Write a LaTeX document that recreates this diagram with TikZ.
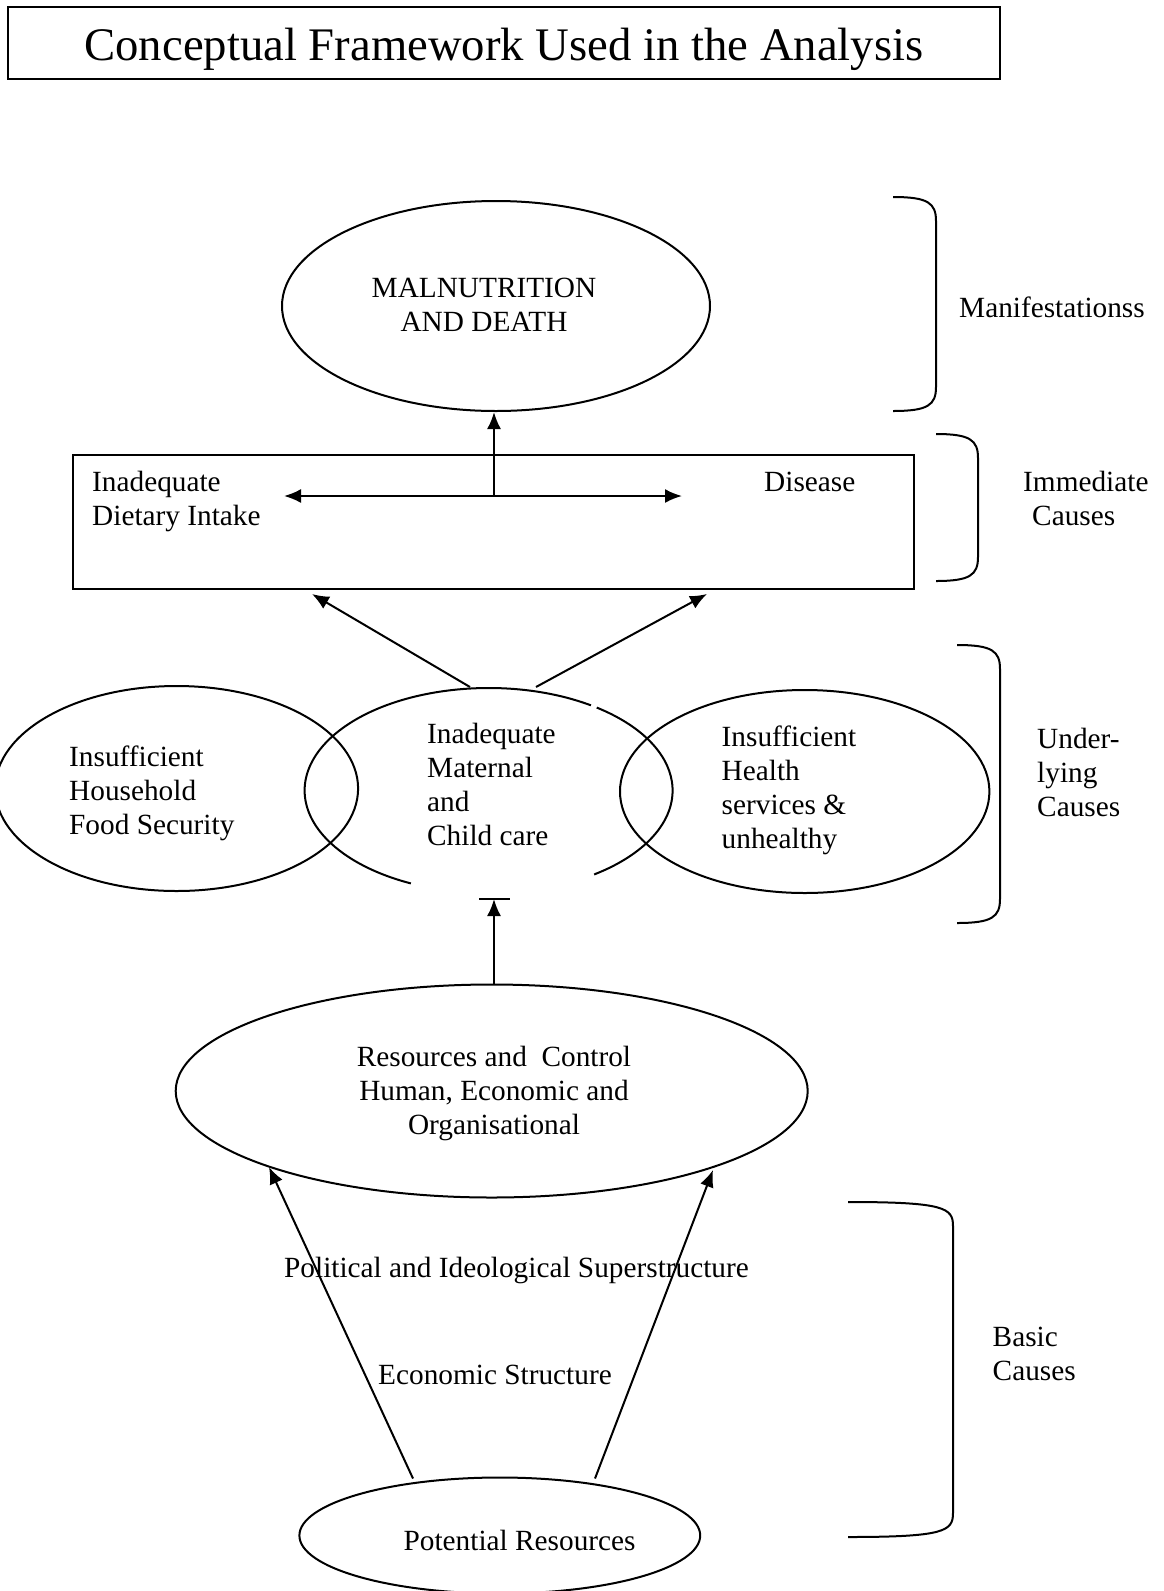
\documentclass[tikz,border=0pt]{standalone}
\usepackage{fontspec}
\setmainfont{Liberation Serif}
\usetikzlibrary{arrows.meta,shapes.geometric}
\newcommand\sidebrace[4]{%
  \draw[ln] (#1,-#3) .. controls (#2-8,-#3) and (#2,-#3-6) .. (#2,-#3-24) -- (#2,-#4+24) .. controls (#2,-#4+6) and (#2-8,-#4) .. (#1,-#4);}
\begin{document}
\begin{tikzpicture}[x=1pt,y=1pt,
  ln/.style={line width=2pt},
  tip/.style={-{Latex[length=17pt,width=14pt]}},
  txt/.style={font=\fontsize{29.3}{34}\selectfont, inner sep=0pt, align=left},
  oval/.style={ellipse, draw, line width=2pt, inner sep=0pt},
]
\useasboundingbox (0,0) rectangle (1163,-1591);
\fill[white] (0,0) rectangle (1163,-1591);

\node[draw, line width=2pt, minimum width=992pt, minimum height=72pt, inner sep=0pt] (title) at (504,-43) {};
\node[inner sep=0pt, font=\fontsize{46.7}{50}\selectfont] (titletext) at (504,-49) {Conceptual Framework Used in the Analysis};

% manifestations
\node[oval, minimum width=428pt, minimum height=210pt] (mal) at (496,-306) {};
\node[txt, align=center] (maltext) at (484,-305) {MALNUTRITION\\AND DEATH};

% immediate causes
\node[draw, ln, minimum width=841pt, minimum height=134pt, inner sep=0pt] (imm) at (493.5,-522) {};
\node[txt, anchor=west] (diet) at (92,-501.5) {Inadequate\\Dietary Intake};
\node[txt, anchor=west] (dis) at (764,-482) {Disease};
\coordinate (hub) at (494,-496);
\coordinate (dl) at (284,-496);
\coordinate (dr) at (682,-496);
\draw[ln, {Latex[length=17pt,width=14pt]}-{Latex[length=17pt,width=14pt]}] (dl) -- (dr);
\draw[ln, tip] (hub) -- (hub |- mal.south);

% underlying causes
\node[oval, minimum width=363pt, minimum height=205pt] (hfs) at (176.6,-788.5) {};
\node[oval, minimum width=369.4pt, minimum height=203pt] (hs) at (804.7,-791.5) {};
\node[ellipse, minimum width=368pt, minimum height=205pt, inner sep=0pt] (mat) at (488.6,-790.5) {};
\draw[ln] (mat.center) ++(-55:184 and 102.5) arc[start angle=-55, end angle=54, x radius=184, y radius=102.5];
\draw[ln] (mat.center) ++(56.2:184 and 102.5) arc[start angle=56.2, end angle=245, x radius=184, y radius=102.5];
\node[txt, anchor=west] (hfst) at (69,-793.5) {Insufficient\\Household\\Food Security};
\node[txt, anchor=west] (matt) at (427,-784) {Inadequate\\Maternal\\and\\Child care};
\node[txt, anchor=west] (hst) at (721.5,-790.5) {Insufficient\\Health\\services \&\\unhealthy};

\coordinate (mL) at (470,-687); \coordinate (tL) at (312,-594);
\coordinate (mR) at (536,-687); \coordinate (tR) at (707,-594);
\draw[ln,tip] (mL) -- (tL);
\draw[ln,tip] (mR) -- (tR);

% basic causes
\coordinate (barL) at (479,-899); \coordinate (barR) at (510,-899);
\coordinate (barM) at (494,-899);
\draw[ln] (barL) -- (barR);
\node[oval, minimum width=632pt, minimum height=213pt] (res) at (491.7,-1091) {};
\draw[ln,tip] (barM |- res.north) -- (barM);
\node[txt, align=center] (rest) at (494,-1093) {Resources and\ \ Control\\Human, Economic and\\Organisational};

\node[oval, minimum width=400.8pt, minimum height=116pt] (pot) at (499.8,-1535.5) {};
\node[txt] (pott) at (519.6,-1540) {Potential Resources};

\coordinate (pL) at (413,-1478.5); \coordinate (rL) at (269,-1167);
\coordinate (pR) at (595,-1478.5); \coordinate (rR) at (713,-1170);
\node[txt] (pol) at (516.5,-1270.5) {Political and Ideological Superstructure};
\node[txt] (eco) at (495,-1375) {Economic Structure};
\draw[ln,tip] (pL) -- (rL);
\draw[ln,tip] (pR) -- (rR);

% side braces and labels
\sidebrace{893}{936}{197}{411}
\sidebrace{936}{978}{434}{581}
\sidebrace{957}{1000}{645}{923}
\sidebrace{848}{953}{1202}{1537}
\node[txt, anchor=west] (lab1) at (959,-307.5) {Manifestationss};
\node[txt, anchor=west] (lab2) at (1023,-498) {Immediate\\\hspace*{9pt}Causes};
\node[txt, anchor=west] (lab3) at (1037,-772) {Under-\\lying\\Causes};
\node[txt, anchor=west] (lab4) at (992.5,-1354) {Basic\\Causes};
\end{tikzpicture}
\end{document}
